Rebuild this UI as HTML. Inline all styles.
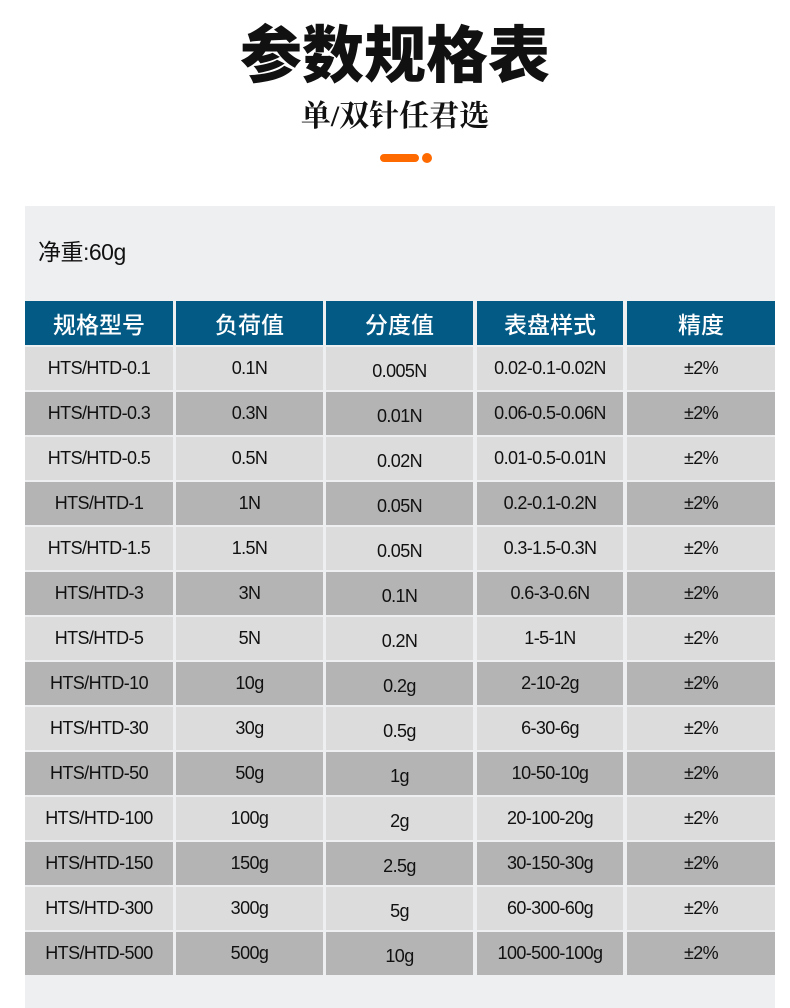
<!DOCTYPE html>
<html><head><meta charset="utf-8"><style>
body{margin:0;width:790px;height:1008px;background:#fff;position:relative;overflow:hidden;font-family:"Liberation Sans","Noto Sans CJK SC",sans-serif}
.t{position:absolute;left:0;width:790px;text-align:center}
#title{top:10px;font-size:62px;font-weight:900;color:#111;line-height:80px;font-family:"Noto Sans CJK SC",sans-serif}
#sub{top:96px;font-size:30px;font-weight:700;color:#111;line-height:42px;font-family:"Liberation Serif","Noto Serif CJK SC",serif}
#panel{position:absolute;left:25px;top:206px;width:750px;height:802px;background:#eeeff1}
#nw{position:absolute;left:38px;top:233px;font-size:23px;color:#111;letter-spacing:-0.5px}
.c{position:absolute;display:flex;align-items:center;justify-content:center;font-size:18px;color:#111;letter-spacing:-0.6px}
.h{background:#035a85;color:#fff;font-size:23px;font-family:"Noto Sans CJK SC",sans-serif;font-weight:500;letter-spacing:0}
.l{background:#dcdcdc}.d{background:#b4b4b4}
</style></head><body>
<div class="t" id="title">参数规格表</div>
<div class="t" id="sub">单/双针任君选</div>
<div style="position:absolute;left:380px;top:154px;width:39px;height:8px;border-radius:4px;background:#ff6a00"></div>
<div style="position:absolute;left:422px;top:153px;width:10px;height:10px;border-radius:50%;background:#ff6a00"></div>
<div id="panel"></div>
<div id="nw">净重:60g</div>
<div id="tbl"></div>
<script>
var xs=[[25,148],[176,147],[326,147],[477,146],[627,148]];
var head=["规格型号","负荷值","分度值","表盘样式","精度"];
var rows=[["HTS/HTD-0.1","0.1N","0.005N","0.02-0.1-0.02N"],["HTS/HTD-0.3","0.3N","0.01N","0.06-0.5-0.06N"],["HTS/HTD-0.5","0.5N","0.02N","0.01-0.5-0.01N"],["HTS/HTD-1","1N","0.05N","0.2-0.1-0.2N"],["HTS/HTD-1.5","1.5N","0.05N","0.3-1.5-0.3N"],["HTS/HTD-3","3N","0.1N","0.6-3-0.6N"],["HTS/HTD-5","5N","0.2N","1-5-1N"],["HTS/HTD-10","10g","0.2g","2-10-2g"],["HTS/HTD-30","30g","0.5g","6-30-6g"],["HTS/HTD-50","50g","1g","10-50-10g"],["HTS/HTD-100","100g","2g","20-100-20g"],["HTS/HTD-150","150g","2.5g","30-150-30g"],["HTS/HTD-300","300g","5g","60-300-60g"],["HTS/HTD-500","500g","10g","100-500-100g"]];
var h="";
head.forEach(function(t,i){h+='<div class="c h" style="left:'+xs[i][0]+'px;top:301px;width:'+xs[i][1]+'px;height:44px">'+t+'</div>';});
rows.forEach(function(r,j){r=r.concat(["±2%"]);var y=347+j*45;r.forEach(function(t,i){h+='<div class="c '+(j%2?'d':'l')+'" style="left:'+xs[i][0]+'px;top:'+y+'px;width:'+xs[i][1]+'px;height:43px;padding-top:'+(i==2?6:0)+'px;box-sizing:border-box">'+t+'</div>';});});
document.getElementById("tbl").innerHTML=h;
</script>
</body></html>
